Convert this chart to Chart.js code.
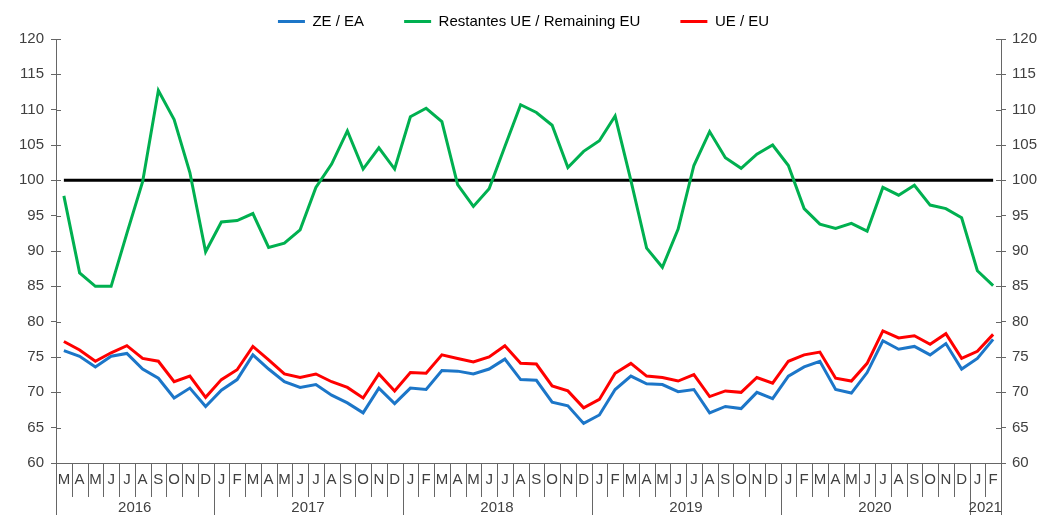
<!DOCTYPE html>
<html>
<head>
<meta charset="utf-8">
<script src="https://cdn.jsdelivr.net/npm/chart.js@4"></script>
<style>
  html, body { margin: 0; padding: 0; background: #fff; }
  #wrap { width: 1047px; height: 515px; }
</style>
</head>
<body>
<div id="wrap"><canvas id="myChart" width="1047" height="515"></canvas></div>
<script>
// Mar 2016 .. Feb 2021
const months = [
  'M','A','M','J','J','A','S','O','N','D',
  'J','F','M','A','M','J','J','A','S','O','N','D',
  'J','F','M','A','M','J','J','A','S','O','N','D',
  'J','F','M','A','M','J','J','A','S','O','N','D',
  'J','F','M','A','M','J','J','A','S','O','N','D',
  'J','F'
];
const years = ['2016', '2017', '2018', '2019', '2020', '2021'];
const monthsPerYear = [10, 12, 12, 12, 12, 2];

const zeEa = [
  75.9, 75.1, 73.6, 75.1, 75.5, 73.3, 72.0, 69.2, 70.6, 68.0,
  70.3, 71.8, 75.3, 73.3, 71.5, 70.7, 71.1, 69.6, 68.5, 67.1, 70.6, 68.4,
  70.6, 70.4, 73.1, 73.0, 72.6, 73.3, 74.7, 71.8, 71.7, 68.6, 68.1, 65.6,
  66.8, 70.4, 72.3, 71.2, 71.1, 70.1, 70.4, 67.1, 68.0, 67.7, 70.0, 69.1,
  72.3, 73.6, 74.4, 70.4, 69.9, 72.8, 77.3, 76.1, 76.5, 75.3, 76.9, 73.3,
  74.8, 77.5
];
const restantesUe = [
  97.8, 86.9, 85.0, 85.0, 92.5, 99.8, 112.7, 108.6, 101.1, 89.9,
  94.1, 94.3, 95.3, 90.5, 91.1, 93.0, 99.0, 102.3, 107.0, 101.6, 104.6, 101.6,
  109.0, 110.2, 108.3, 99.4, 96.3, 98.8, 104.8, 110.7, 109.6, 107.8, 101.8, 104.1,
  105.6, 109.1, 100.0, 90.4, 87.7, 93.1, 102.1, 106.9, 103.2, 101.7, 103.7, 105.0,
  102.1, 96.0, 93.8, 93.2, 93.9, 92.8, 99.0, 97.9, 99.3, 96.5, 96.0, 94.7,
  87.2, 85.1
];
const ueEu = [
  77.2, 76.0, 74.4, 75.6, 76.6, 74.8, 74.4, 71.5, 72.3, 69.3,
  71.8, 73.2, 76.5, 74.6, 72.6, 72.1, 72.6, 71.5, 70.7, 69.2, 72.6, 70.2,
  72.8, 72.7, 75.3, 74.8, 74.3, 75.0, 76.6, 74.1, 74.0, 70.9, 70.2, 67.8,
  69.0, 72.7, 74.1, 72.3, 72.1, 71.6, 72.5, 69.4, 70.2, 70.0, 72.1, 71.3,
  74.4, 75.3, 75.7, 72.0, 71.6, 74.1, 78.7, 77.7, 78.0, 76.8, 78.3, 74.8,
  75.8, 78.2
];
const reference = months.map(() => 100);

const axisColor = '#666666';
const textColor = '#404040';

// month / year dividers under the x axis, and ticks crossing the y axes
const dividers = {
  id: 'dividers',
  afterDraw(chart) {
    const { ctx, chartArea } = chart;
    const x = chart.scales.x, y = chart.scales.y;
    const half = (x.getPixelForValue(1) - x.getPixelForValue(0)) / 2;
    const yearStarts = [0];
    monthsPerYear.forEach(n => yearStarts.push(yearStarts[yearStarts.length - 1] + n));

    ctx.save();
    ctx.strokeStyle = axisColor;
    ctx.lineWidth = 1;
    for (let i = 0; i <= months.length; i++) {
      const px = Math.round(x.getPixelForValue(i) - half) + 0.5;
      const isYear = yearStarts.includes(i);
      ctx.beginPath();
      ctx.moveTo(px, chartArea.bottom);
      ctx.lineTo(px, isYear ? chart.height : chartArea.bottom + 34);
      ctx.stroke();
    }

    // inner halves of the y ticks
    y.ticks.forEach(t => {
      const py = Math.round(y.getPixelForValue(t.value)) + 0.5;
      ctx.beginPath();
      ctx.moveTo(chartArea.left, py);
      ctx.lineTo(chartArea.left + 5, py);
      ctx.moveTo(chartArea.right - 5, py);
      ctx.lineTo(chartArea.right, py);
      ctx.stroke();
    });

    // year labels
    ctx.fillStyle = textColor;
    ctx.font = '15px "Liberation Sans", Arial, sans-serif';
    ctx.textAlign = 'center';
    ctx.textBaseline = 'middle';
    years.forEach((yr, k) => {
      const a = x.getPixelForValue(yearStarts[k]);
      const b = x.getPixelForValue(yearStarts[k + 1] - 1);
      ctx.fillText(yr, (a + b) / 2, chartArea.bottom + 45);
    });
    ctx.restore();
  }
};

const tickFont = { family: '"Liberation Sans", Arial, sans-serif', size: 15 };

const ctx = document.getElementById('myChart').getContext('2d');
new Chart(ctx, {
  type: 'line',
  data: {
    labels: months,
    datasets: [
      { label: 'ZE / EA', data: zeEa, borderColor: '#1C76C8', backgroundColor: '#1C76C8', pointBorderWidth: 3, order: 2 },
      { label: 'Restantes UE / Remaining EU', data: restantesUe, borderColor: '#00B050', backgroundColor: '#00B050', pointBorderWidth: 3, order: 1 },
      { label: 'UE / EU', data: ueEu, borderColor: '#FF0000', backgroundColor: '#FF0000', pointBorderWidth: 3, order: 0 },
      { label: 'ref', data: reference, borderColor: '#000000', backgroundColor: '#000000', order: 3 }
    ]
  },
  plugins: [dividers],
  options: {
    responsive: false,
    animation: false,
    layout: { padding: { top: -26, left: 0, right: 0, bottom: 0 } },
    elements: {
      line: { borderWidth: 3, tension: 0 },
      point: { radius: 0 }
    },
    plugins: {
      legend: {
        position: 'top',
        labels: {
          usePointStyle: true,
          pointStyle: 'line',
          pointStyleWidth: 27,
          padding: 40,
          color: '#000',
          font: tickFont,
          filter: item => item.text !== 'ref',
          sort: (a, b) => a.datasetIndex - b.datasetIndex
        }
      },
      tooltip: { enabled: false }
    },
    scales: {
      x: {
        offset: true,
        grid: { display: false, drawTicks: false },
        border: { display: true, color: axisColor, width: 1 },
        ticks: { autoSkip: false, maxRotation: 0, padding: 8, color: textColor, font: tickFont },
        afterFit: s => { s.height = 52; }
      },
      y: {
        position: 'left',
        min: 60, max: 120,
        grid: { drawOnChartArea: false, tickLength: 5, color: axisColor },
        border: { color: axisColor, width: 1 },
        ticks: { stepSize: 5, padding: 7, color: textColor, font: tickFont },
        afterFit: s => { s.width = 56; }
      },
      y2: {
        position: 'right',
        min: 60, max: 120,
        grid: { drawOnChartArea: false, tickLength: 5, color: axisColor },
        border: { color: axisColor, width: 1 },
        ticks: { stepSize: 5, padding: 6, color: textColor, font: tickFont },
        afterFit: s => { s.width = 46; }
      }
    }
  }
});
</script>
</body>
</html>
